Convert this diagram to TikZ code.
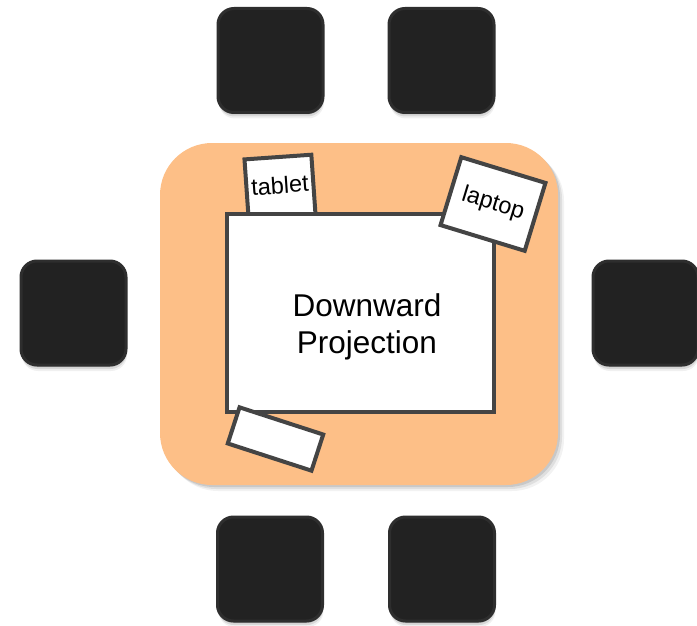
\documentclass[tikz,border=0pt]{standalone}
\usepackage{fontspec}
\setmainfont{Liberation Sans}
\usetikzlibrary{shadows}
\definecolor{tablec}{RGB}{253,191,135}
\definecolor{chairc}{RGB}{34,34,34}
\definecolor{chairb}{RGB}{46,46,46}
\definecolor{edgec}{RGB}{68,68,68}
\begin{document}
\begin{tikzpicture}[x=1pt,y=-1pt,
  softshadow/.style={
    drop shadow={shadow xshift=0pt,shadow yshift=-2pt,opacity=0.12,fill=black},
    drop shadow={shadow xshift=0.5pt,shadow yshift=-4pt,opacity=0.10,fill=black},
    drop shadow={shadow xshift=1pt,shadow yshift=-6pt,opacity=0.06,fill=black}},
  chairbox/.style={rectangle,rounded corners=16pt,minimum width=105pt,minimum height=104pt,
    inner sep=0pt,fill=chairc,draw=chairb,line width=3pt,softshadow},
  tablebox/.style={rectangle,rounded corners=52pt,minimum width=398pt,minimum height=342pt,
    inner sep=0pt,fill=tablec,
    drop shadow={shadow xshift=2pt,shadow yshift=-2pt,opacity=0.10,fill=black},
    drop shadow={shadow xshift=4pt,shadow yshift=-4pt,opacity=0.08,fill=black},
    drop shadow={shadow xshift=6pt,shadow yshift=-6pt,opacity=0.05,fill=black}},
  devbox/.style={rectangle,fill=white,draw=edgec,line width=4pt,inner sep=0pt,
    font=\fontsize{23.5}{26}\selectfont},
]
\useasboundingbox (0,0) rectangle (697,626);
% chairs
\node[chairbox] (c1) at (270.5,60.5) {};
\node[chairbox] (c2) at (441.5,60.5) {};
\node[chairbox] (c3) at (73.5,313) {};
\node[chairbox] (c4) at (645.5,313) {};
\node[chairbox] (c5) at (270,569) {};
\node[chairbox] (c6) at (442,569) {};
% table
\node[tablebox] (table) at (359,314) {};
% tablet (partly under the projection)
\node[devbox,minimum width=67pt,minimum height=60pt,rotate=4] (tablet) at (280,187)
  {\raisebox{4pt}{tablet}};
% projection area
\node[rectangle,fill=white,draw=edgec,line width=4pt,minimum width=267pt,minimum height=198pt,inner sep=0pt]
  (proj) at (360.5,313) {};
\node[align=center,font=\fontsize{31.5}{37}\selectfont,inner sep=0pt] (projtext) at (367,327)
  {Downward\\Projection};
% laptop
\node[devbox,minimum width=88pt,minimum height=71pt,rotate=-17] (laptop) at (493,204) {laptop};
% small device
\node[devbox,minimum width=88pt,minimum height=38pt,rotate=-18] (dev) at (275.5,439) {};
\end{tikzpicture}
\end{document}
